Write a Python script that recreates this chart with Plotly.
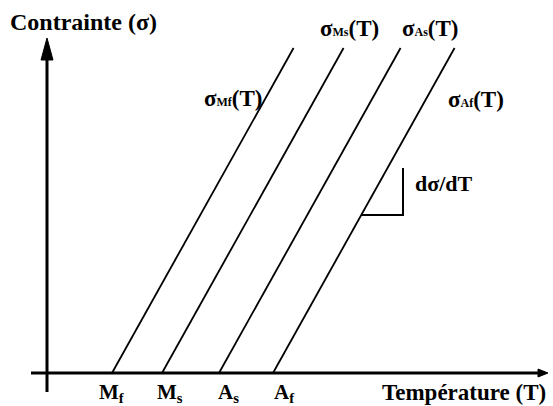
import plotly.graph_objects as go

# Transformation temperatures (abscissa units) and their labels
transition_names = ["M<sub>f</sub>", "M<sub>s</sub>", "A<sub>s</sub>", "A<sub>f</sub>"]
transition_T = [65, 115, 172, 226]
curve_subscripts = ["Mf", "Ms", "As", "Af"]

# Clausius-Clapeyron slope dσ/dT and stress extent of each line
slope = 1.79
sigma_max = 325

# Slope triangle on the Af line
step_sigma_low = 158
step_sigma_high = 205
step_T_right = 356

# Axis extents
T_axis = [-16, 501]
sigma_axis = [-19, 335]

FONT = "Liberation Serif"
INK = "black"


def curve_label(sub):
    return f"<b>σ<span style='font-size:12px'>{sub}</span>(T)</b>"


fig = go.Figure()

# Stress-temperature lines, one per transformation temperature
for T0 in transition_T:
    fig.add_trace(go.Scatter(
        x=[T0, T0 + sigma_max / slope], y=[0, sigma_max],
        mode="lines", line=dict(color=INK, width=1.8),
        hoverinfo="skip", showlegend=False))

# Slope triangle: horizontal leg from the Af line, then vertical leg
T_on_af = transition_T[3] + step_sigma_low / slope
fig.add_trace(go.Scatter(
    x=[T_on_af, step_T_right, step_T_right],
    y=[step_sigma_low, step_sigma_low, step_sigma_high],
    mode="lines", line=dict(color=INK, width=2),
    hoverinfo="skip", showlegend=False))

shapes = []
# Axes
shapes.append(dict(type="line", x0=T_axis[0], x1=T_axis[1] - 4, y0=0, y1=0,
                   line=dict(color=INK, width=3)))
shapes.append(dict(type="line", x0=0, x1=0, y0=sigma_axis[0], y1=sigma_axis[1] - 10,
                   line=dict(color=INK, width=3)))
# Arrowheads
xt = T_axis[1]
shapes.append(dict(type="path",
                   path=f"M {xt} 0 L {xt-10} 4 L {xt-10} -4 Z",
                   fillcolor=INK, line=dict(color=INK, width=1)))
yt = sigma_axis[1]
shapes.append(dict(type="path",
                   path=f"M 0 {yt} L 6 {yt-22} L -6 {yt-22} Z",
                   fillcolor=INK, line=dict(color=INK, width=1)))

annotations = []
# Temperature labels under the abscissa
label_shift = [0, 8, 9, 11]
for name, T0, dx in zip(transition_names, transition_T, label_shift):
    annotations.append(dict(x=T0, y=0, text=f"<b>{name}</b>", showarrow=False,
                            xanchor="center", yanchor="top", xshift=dx, yshift=-5,
                            font=dict(family=FONT, size=21, color=INK)))

# Curve labels
tops = [T0 + sigma_max / slope for T0 in transition_T]
annotations.append(dict(x=transition_T[0] + 275 / slope, y=275, text=curve_label(curve_subscripts[0]),
                        showarrow=False, xanchor="right", yanchor="middle", xshift=-1,
                        font=dict(family=FONT, size=23, color=INK)))
annotations.append(dict(x=tops[1], y=sigma_max, text=curve_label(curve_subscripts[1]),
                        showarrow=False, xanchor="center", yanchor="bottom", xshift=6, yshift=5,
                        font=dict(family=FONT, size=23, color=INK)))
annotations.append(dict(x=tops[2], y=sigma_max, text=curve_label(curve_subscripts[2]),
                        showarrow=False, xanchor="left", yanchor="bottom", xshift=-1, yshift=5,
                        font=dict(family=FONT, size=23, color=INK)))
annotations.append(dict(x=transition_T[3] + 274 / slope, y=274, text=curve_label(curve_subscripts[3]),
                        showarrow=False, xanchor="left", yanchor="middle", xshift=20,
                        font=dict(family=FONT, size=23, color=INK)))

# Slope label
annotations.append(dict(x=step_T_right, y=(step_sigma_low + step_sigma_high) / 2 + 8,
                        text="<b>dσ/dT</b>", showarrow=False, xanchor="left", yanchor="middle",
                        xshift=10, font=dict(family=FONT, size=22, color=INK)))

# Axis titles
annotations.append(dict(x=0, y=sigma_axis[1], text="<b>Contrainte (σ)</b>", showarrow=False,
                        xanchor="center", yanchor="bottom", xshift=36, yshift=1,
                        font=dict(family=FONT, size=24, color=INK)))
annotations.append(dict(x=T_axis[1], y=0, text="<b>Température (T)</b>", showarrow=False,
                        xanchor="right", yanchor="top", yshift=-5,
                        font=dict(family=FONT, size=23, color=INK)))

fig.update_layout(
    width=553, height=406,
    margin=dict(l=0, r=0, t=0, b=0),
    paper_bgcolor="white", plot_bgcolor="white",
    xaxis=dict(range=[-47, 506], visible=False, fixedrange=True),
    yaxis=dict(range=[-33, 373], visible=False, fixedrange=True),
    shapes=shapes, annotations=annotations,
    showlegend=False,
)

fig.write_html("out.html")
